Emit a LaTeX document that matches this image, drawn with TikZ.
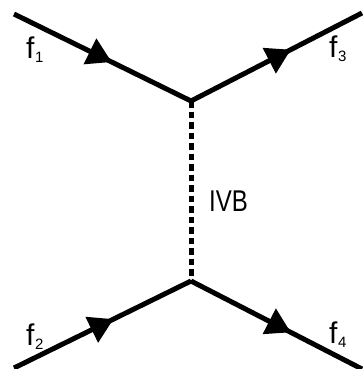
\documentclass[tikz,border=0pt]{standalone}
\usepackage{fontspec}
\setmainfont{Liberation Sans}
\usetikzlibrary{decorations.markings}
\tikzset{
  fermion/.style={line width=5pt,
    postaction={decorate},
    decoration={markings,mark=at position #1 with {\fill (-12pt,-14.5pt) -- (12pt,0pt) -- (-12pt,14.5pt) -- cycle;}}},
  boson/.style={line width=5pt,dash pattern=on 6.5pt off 4pt},
  lbl/.style={inner sep=0pt,anchor=base west,font=\fontsize{30}{30}\selectfont},
}
\newcommand{\fsub}[1]{f\kern0.5pt\raisebox{-4pt}{\fontsize{15}{15}\selectfont #1}}
\begin{document}
\begin{tikzpicture}[x=1pt,y=-1pt]
\useasboundingbox (0,0) rectangle (362,369);
\coordinate (a) at (14,14);
\coordinate (b) at (362,13);
\coordinate (c) at (14,368);
\coordinate (d) at (362,369);
\coordinate (v1) at (191,101);
\coordinate (v2) at (191,281);
\draw[fermion=0.49] (a) -- (v1);
\draw[fermion=0.52] (v1) -- (b);
\draw[fermion=0.50] (c) -- (v2);
\draw[fermion=0.52] (v2) -- (d);
\draw[boson] (v1) -- (v2);
\node[lbl] (l1) at (26,59) {\fsub{1}};
\node[lbl] (l3) at (329,58) {\fsub{3}};
\node[lbl] (l2) at (26,345) {\fsub{2}};
\node[lbl] (l4) at (329,343) {\fsub{4}};
\node[lbl] (ivb) at (209,211) {\scalebox{0.8}[1]{IVB}};
\end{tikzpicture}
\end{document}
